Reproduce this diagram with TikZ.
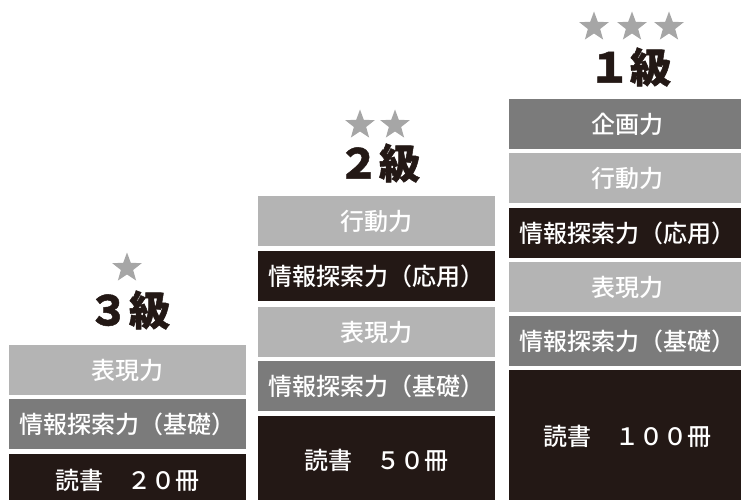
\documentclass[tikz,border=0pt]{standalone}
\usepackage{fontspec}
\IfFontExistsTF{Noto Sans CJK JP Medium}
  {\newfontfamily\jp{Noto Sans CJK JP Medium}}
  {\newfontfamily\jp{Noto Sans CJK JP}}
\newfontfamily\jpheavy{Noto Sans CJK JP}[BoldFeatures={FakeBold=1.2}]
\usetikzlibrary{shapes.geometric}
\definecolor{boxlight}{HTML}{B4B4B4}
\definecolor{boxmid}{HTML}{7B7B7B}
\definecolor{boxdark}{HTML}{231815}
\definecolor{stargray}{HTML}{A6A6A6}
\tikzset{
  skill/.style={anchor=north west,minimum width=237pt,minimum height=50pt,
    inner sep=0pt,text=white,font=\jp\fontsize{24}{24}\selectfont},
  lightbox/.style={skill,fill=boxlight},
  midbox/.style={skill,fill=boxmid},
  darkbox/.style={skill,fill=boxdark},
  starmark/.style={star,star points=5,star point ratio=2.4,fill=stargray,
    minimum size=31pt,inner sep=0pt},
  grade/.style={text=boxdark,font=\jpheavy\bfseries\fontsize{41}{41}\selectfont,inner sep=0pt}
}
\begin{document}
\begin{tikzpicture}[x=1pt,y=-1pt]
  \useasboundingbox (0,0) rectangle (741,500);
  \clip (0,0) rectangle (741,500);
  % 3級
  \node[starmark] (s3a) at (127,268) {};
  \node[grade] (g3) at (129,310) {３級};
  \node[lightbox] (c3a) at (9,345) {表現力};
  \node[midbox] (c3b) at (9,399) {情報探索力（基礎）};
  \node[darkbox,minimum height=52pt] (c3c) at (9,454) {読書　２０冊};
  % 2級
  \node[starmark] (s2a) at (360,125) {};
  \node[starmark] (s2b) at (395,125) {};
  \node[grade] (g2) at (379,163) {２級};
  \node[lightbox] (c2a) at (258,196) {行動力};
  \node[darkbox] (c2b) at (258,251) {情報探索力（応用）};
  \node[lightbox] (c2c) at (258,307) {表現力};
  \node[midbox] (c2d) at (258,361) {情報探索力（基礎）};
  \node[darkbox,minimum height=88pt] (c2e) at (258,416) {読書　５０冊};
  % 1級
  \node[starmark] (s1a) at (594,27) {};
  \node[starmark] (s1b) at (632,27) {};
  \node[starmark] (s1c) at (669,27) {};
  \node[grade] (g1) at (630,67) {１級};
  \node[midbox] (c1a) at (509,99) {企画力};
  \node[lightbox] (c1b) at (509,153) {行動力};
  \node[darkbox] (c1c) at (509,208) {情報探索力（応用）};
  \node[lightbox] (c1d) at (509,262) {表現力};
  \node[midbox] (c1e) at (509,316) {情報探索力（基礎）};
  \node[darkbox,minimum height=132pt] (c1f) at (509,370) {読書　１００冊};
\end{tikzpicture}
\end{document}
